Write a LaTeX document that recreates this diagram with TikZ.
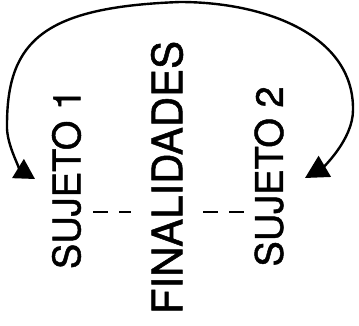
\documentclass[tikz,border=0pt]{standalone}
\usepackage{fontspec}
\setmainfont{TeX Gyre Heros}
\newfontfamily\heavyfont[FakeBold=1.2]{TeX Gyre Heros}
\usetikzlibrary{arrows.meta,calc}
\tikzset{
  sujlabel/.style={inner sep=0pt, rotate=90, font=\heavyfont\fontsize{38}{40}\selectfont},
  finlabel/.style={inner sep=0pt, rotate=90, font=\heavyfont\fontsize{42}{44}\selectfont},
  dashline/.style={line width=2.8pt, dash pattern=on 15pt off 11pt},
  bigcurve/.style={line width=2.4pt, {Triangle[length=20pt,width=22pt]}-{Triangle[length=23pt,width=24pt]}},
}
\begin{document}
\begin{tikzpicture}[x=1pt,y=1pt]
\useasboundingbox (0,0) rectangle (359,325);
\node[sujlabel] (s1) at (66.5,146) {SUJETO 1};
\node[finlabel] (fin) at (167,147.5) {FINALIDADES};
\node[sujlabel] (s2) at (269,148.5) {SUJETO 2};
\coordinate (ly) at (0,113);
\draw[dashline] ($(s1.south |- ly)+(12,0)$) -- ($(fin.north |- ly)+(-20,0)$);
\draw[dashline] ($(fin.south |- ly)+(20,0)$) -- ($(s2.north |- ly)+(-10,0)$);
\coordinate (a1) at (35,146);
\coordinate (a2) at (305,147);
\draw[bigcurve] (a1) .. controls (22,154) and (6,180) .. (7,200)
  .. controls (7,285) and (45,318) .. (180,323)
  .. controls (265,323) and (354,290) .. (353,215)
  .. controls (353,185) and (322,157) .. (a2);
\end{tikzpicture}
\end{document}
